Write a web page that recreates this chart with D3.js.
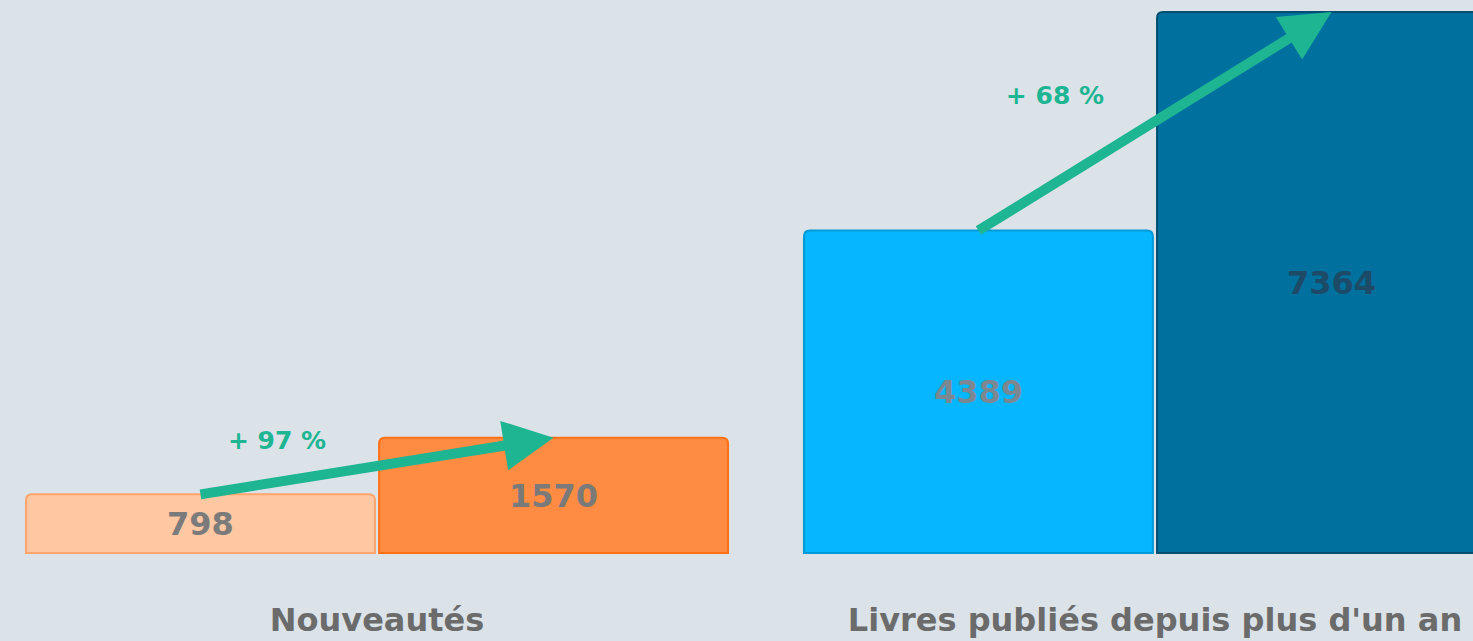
<!DOCTYPE html>
<html>
<head>
<meta charset="utf-8">
<script src="https://cdn.jsdelivr.net/npm/d3@7"></script>
<style>
  body { margin: 0; background: #dbe3e9; overflow: hidden; }
  svg { display: block; }
  text { font-family: "DejaVu Sans", sans-serif; font-weight: bold; }
</style>
</head>
<body>
<main></main>
<script>
const categories = ["Nouveautés", "Livres publiés depuis plus d'un an"];
const series = ["avant", "après"];
const valuesBefore = [798, 4389];
const valuesAfter = [1570, 7364];
const growthLabels = ["+ 97 %", "+ 68 %"];

const w = 1473;
const h = 641;

const fills = [["#ffc8a3", "#ff8c42"], ["#06b6ff", "#00709e"]];
const strokes = [["#ffa46c", "#ff7014"], ["#0299d8", "#014f70"]];
const labelColors = [["#7b7b7b", "#7a7a7a"], ["#7c8891", "#1d4a66"]];

const svg = d3.select("main")
  .append("svg")
  .attr("width", w)
  .attr("height", h);

const x = d3.scaleBand()
  .domain(categories)
  .range([25, 1507])
  .paddingInner(0.095)
  .paddingOuter(0);

const xInner = d3.scaleBand()
  .domain(series)
  .range([0, x.bandwidth()])
  .paddingInner(0.006);

const y = d3.scaleLinear()
  .domain([0, d3.max(valuesAfter.concat(valuesBefore))])
  .range([553, 12]);

const rows = categories.map((c, i) => ({
  cat: c,
  i: i,
  bars: [
    { s: series[0], v: valuesBefore[i], j: 0 },
    { s: series[1], v: valuesAfter[i], j: 1 }
  ]
}));

function topRounded(x0, y0, bw, bh, r) {
  return `M${x0},${y0 + bh} V${y0 + r} Q${x0},${y0} ${x0 + r},${y0} H${x0 + bw - r} Q${x0 + bw},${y0} ${x0 + bw},${y0 + r} V${y0 + bh} Z`;
}

const groups = svg.selectAll("g.group")
  .data(rows)
  .enter()
  .append("g")
  .attr("class", "group")
  .attr("transform", d => `translate(${x(d.cat)},0)`);

groups.selectAll("path.bar")
  .data(d => d.bars.map(b => ({ ...b, i: d.i })))
  .enter()
  .append("path")
  .attr("class", "bar")
  .attr("d", d => topRounded(xInner(d.s) + 1, y(d.v), xInner.bandwidth() - 2, y(0) - y(d.v), 6))
  .style("fill", d => fills[d.i][d.j])
  .style("stroke", d => strokes[d.i][d.j])
  .style("stroke-width", 2);

groups.selectAll("text.value")
  .data(d => d.bars.map(b => ({ ...b, i: d.i })))
  .enter()
  .append("text")
  .attr("class", "value")
  .attr("x", d => xInner(d.s) + xInner.bandwidth() / 2)
  .attr("y", d => (y(d.v) + y(0)) / 2)
  .attr("dy", "0.36em")
  .attr("text-anchor", "middle")
  .style("font-size", "32px")
  .style("fill", d => labelColors[d.i][d.j])
  .text(d => d.v);

// growth arrows, from top centre of first bar to top centre of second
const arrowColor = "#1db592";
groups.each(function(d) {
  const g = d3.select(this);
  const x1 = xInner(series[0]) + xInner.bandwidth() / 2;
  const y1 = y(d.bars[0].v);
  const x2 = xInner(series[1]) + xInner.bandwidth() / 2;
  const y2 = y(d.bars[1].v);
  const ang = Math.atan2(y2 - y1, x2 - x1);
  const headLen = 50;
  const headHalf = 25;
  const bx = x2 - headLen * Math.cos(ang);
  const by = y2 - headLen * Math.sin(ang);
  g.append("line")
    .attr("x1", x1).attr("y1", y1)
    .attr("x2", bx + 4 * Math.cos(ang)).attr("y2", by + 4 * Math.sin(ang))
    .style("stroke", arrowColor)
    .style("stroke-width", 10);
  g.append("path")
    .attr("d", `M${x2},${y2} L${bx - headHalf * Math.sin(ang)},${by + headHalf * Math.cos(ang)} L${bx + headHalf * Math.sin(ang)},${by - headHalf * Math.cos(ang)} Z`)
    .style("fill", arrowColor);
  g.append("text")
    .attr("x", (x1 + x2) / 2 - 100)
    .attr("y", (y1 + y2) / 2 - 17)
    .attr("text-anchor", "middle")
    .style("font-size", "25px")
    .style("fill", arrowColor)
    .text(growthLabels[d.i]);
});

svg.selectAll("text.cat")
  .data(categories)
  .enter()
  .append("text")
  .attr("class", "cat")
  .attr("x", d => x(d) + x.bandwidth() / 2)
  .attr("y", 631)
  .attr("text-anchor", "middle")
  .style("font-size", "32px")
  .style("fill", "#6b6b6b")
  .text(d => d);
</script>
</body>
</html>
